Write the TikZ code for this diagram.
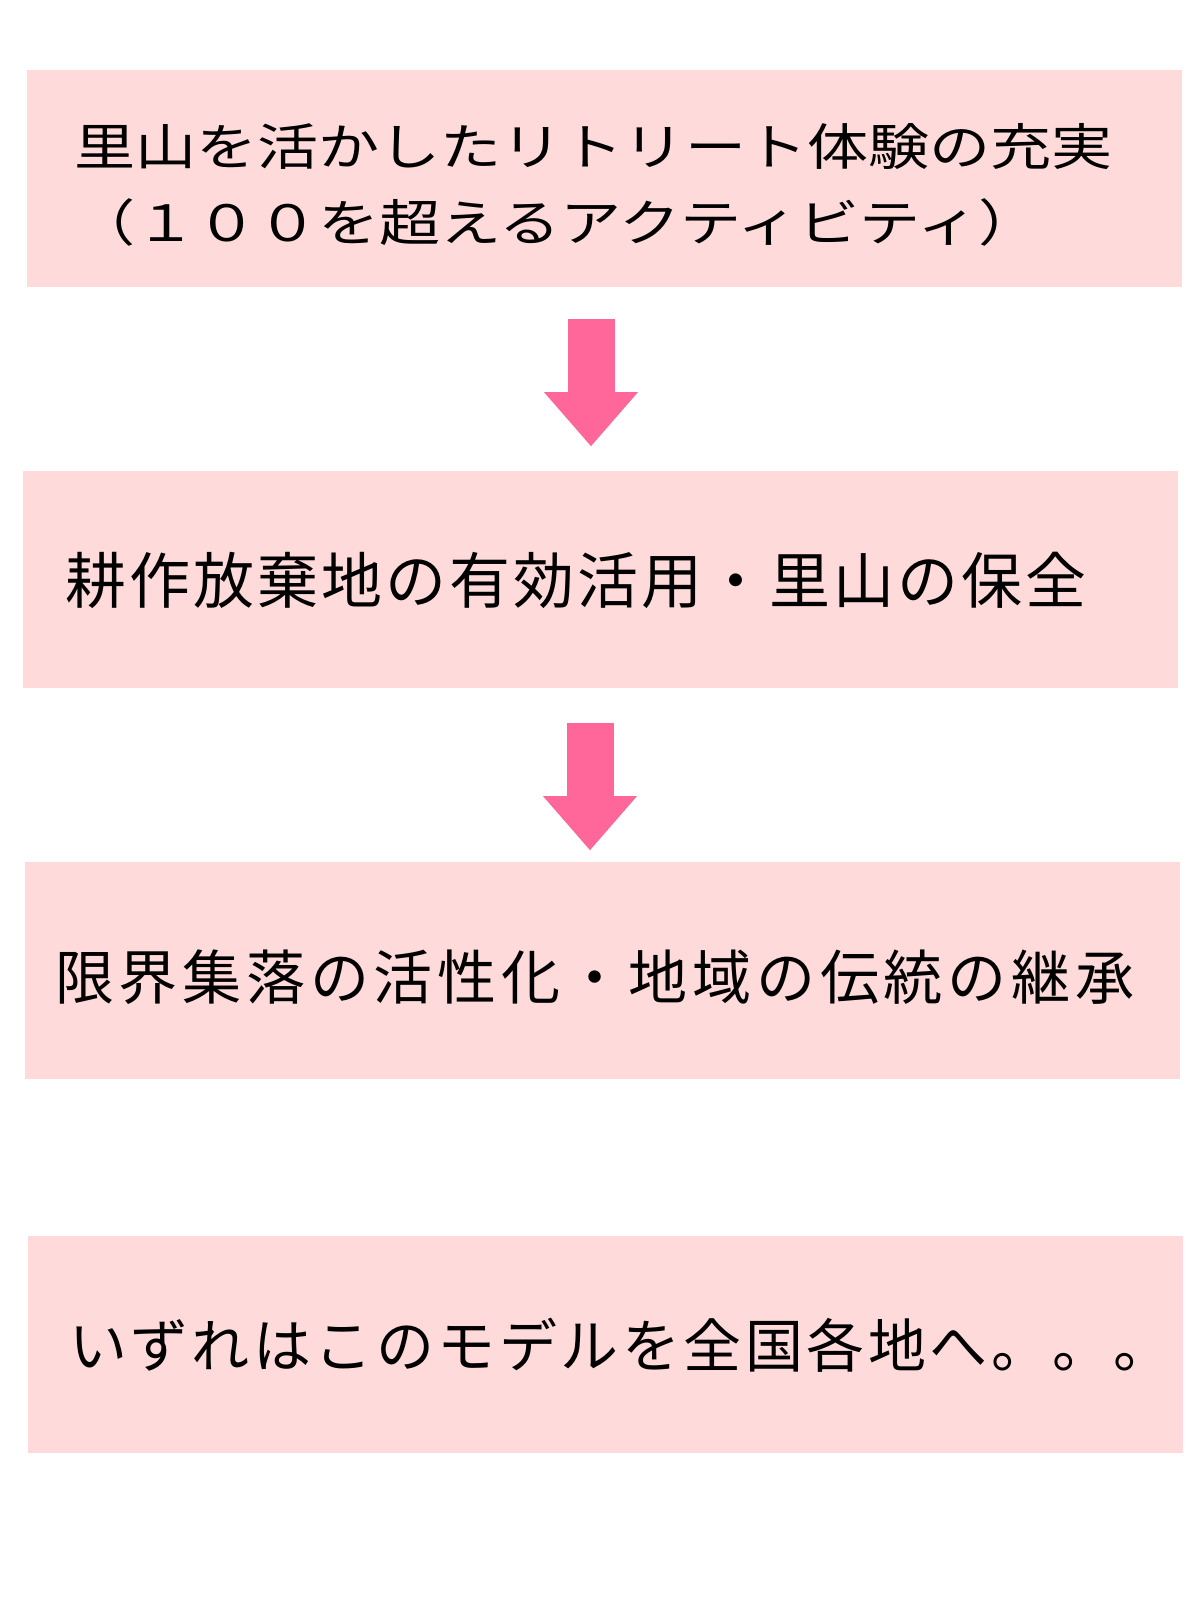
\documentclass[tikz,border=0pt]{standalone}
\usepackage{fontspec}
\usepackage{tikz}
\usetikzlibrary{arrows.meta}
\usetikzlibrary{positioning}
\newfontfamily\jpfont{Noto Sans CJK JP}
\newfontfamily\jpwide[FakeStretch=1.22]{Noto Sans CJK JP}
\definecolor{mpink}{RGB}{255, 218, 219}
\definecolor{marrow}{RGB}{255, 102, 153}
\tikzset{box/.style = {fill = mpink, minimum width = 23.1cm, minimum height = 4.34cm, inner sep = 0}}
\tikzset{txt/.style = {anchor = west, inner sep = 0, align = left}}
\tikzset{bigarrow/.style = {draw = marrow, line width = 0.94cm,
                            -{Triangle[width = 1.88cm, length = 1.08cm, line width = 0pt]}}}

\begin{document}
\begin{tikzpicture}
      \useasboundingbox (0, 0) rectangle (24, 32);

      \node [box] (satoyama) at (12.09, 28.42) {};
      \node [box] (kousaku) at (12.01, 20.40) {};
      \node [box] (shuuraku) at (12.05, 12.58) {};
      \node [box] (zenkoku) at (12.11, 5.10) {};

      \node [txt, right = 0.94cm of satoyama.west, yshift = -0.12cm,
             font = \jpwide\fontsize{28.5}{43}\selectfont] (satoyamatext)
            {里山を活かしたリトリート体験の充実\\（１００を超えるアクティビティ）};
      \node [txt, right = 0.85cm of kousaku.west,
             font = \jpfont\fontsize{34.7}{40}\selectfont\addfontfeature{LetterSpace=5}] (kousakutext)
            {耕作放棄地の有効活用・里山の保全};
      \node [txt, right = 0.6cm of shuuraku.west, yshift = -0.12cm,
             font = \jpfont\fontsize{33.6}{40}\selectfont\addfontfeature{LetterSpace=8}] (shuurakutext)
            {限界集落の活性化・地域の伝統の継承};
      \node [txt, right = 0.82cm of zenkoku.west,
             font = \jpfont\fontsize{33}{40}\selectfont\addfontfeature{LetterSpace=6}] (zenkokutext)
            {いずれはこのモデルを全国各地へ。。。};

      \draw [bigarrow, shorten <= 0.62cm, shorten >= 0.5cm]
            ([xshift = -0.27cm]satoyama.south) -- ([xshift = -0.27cm]satoyama.south |- kousaku.north);
      \draw [bigarrow, shorten <= 0.68cm, shorten >= 0.24cm]
            ([xshift = -0.21cm]kousaku.south) -- ([xshift = -0.21cm]kousaku.south |- shuuraku.north);
    \end{tikzpicture}
\end{document}
